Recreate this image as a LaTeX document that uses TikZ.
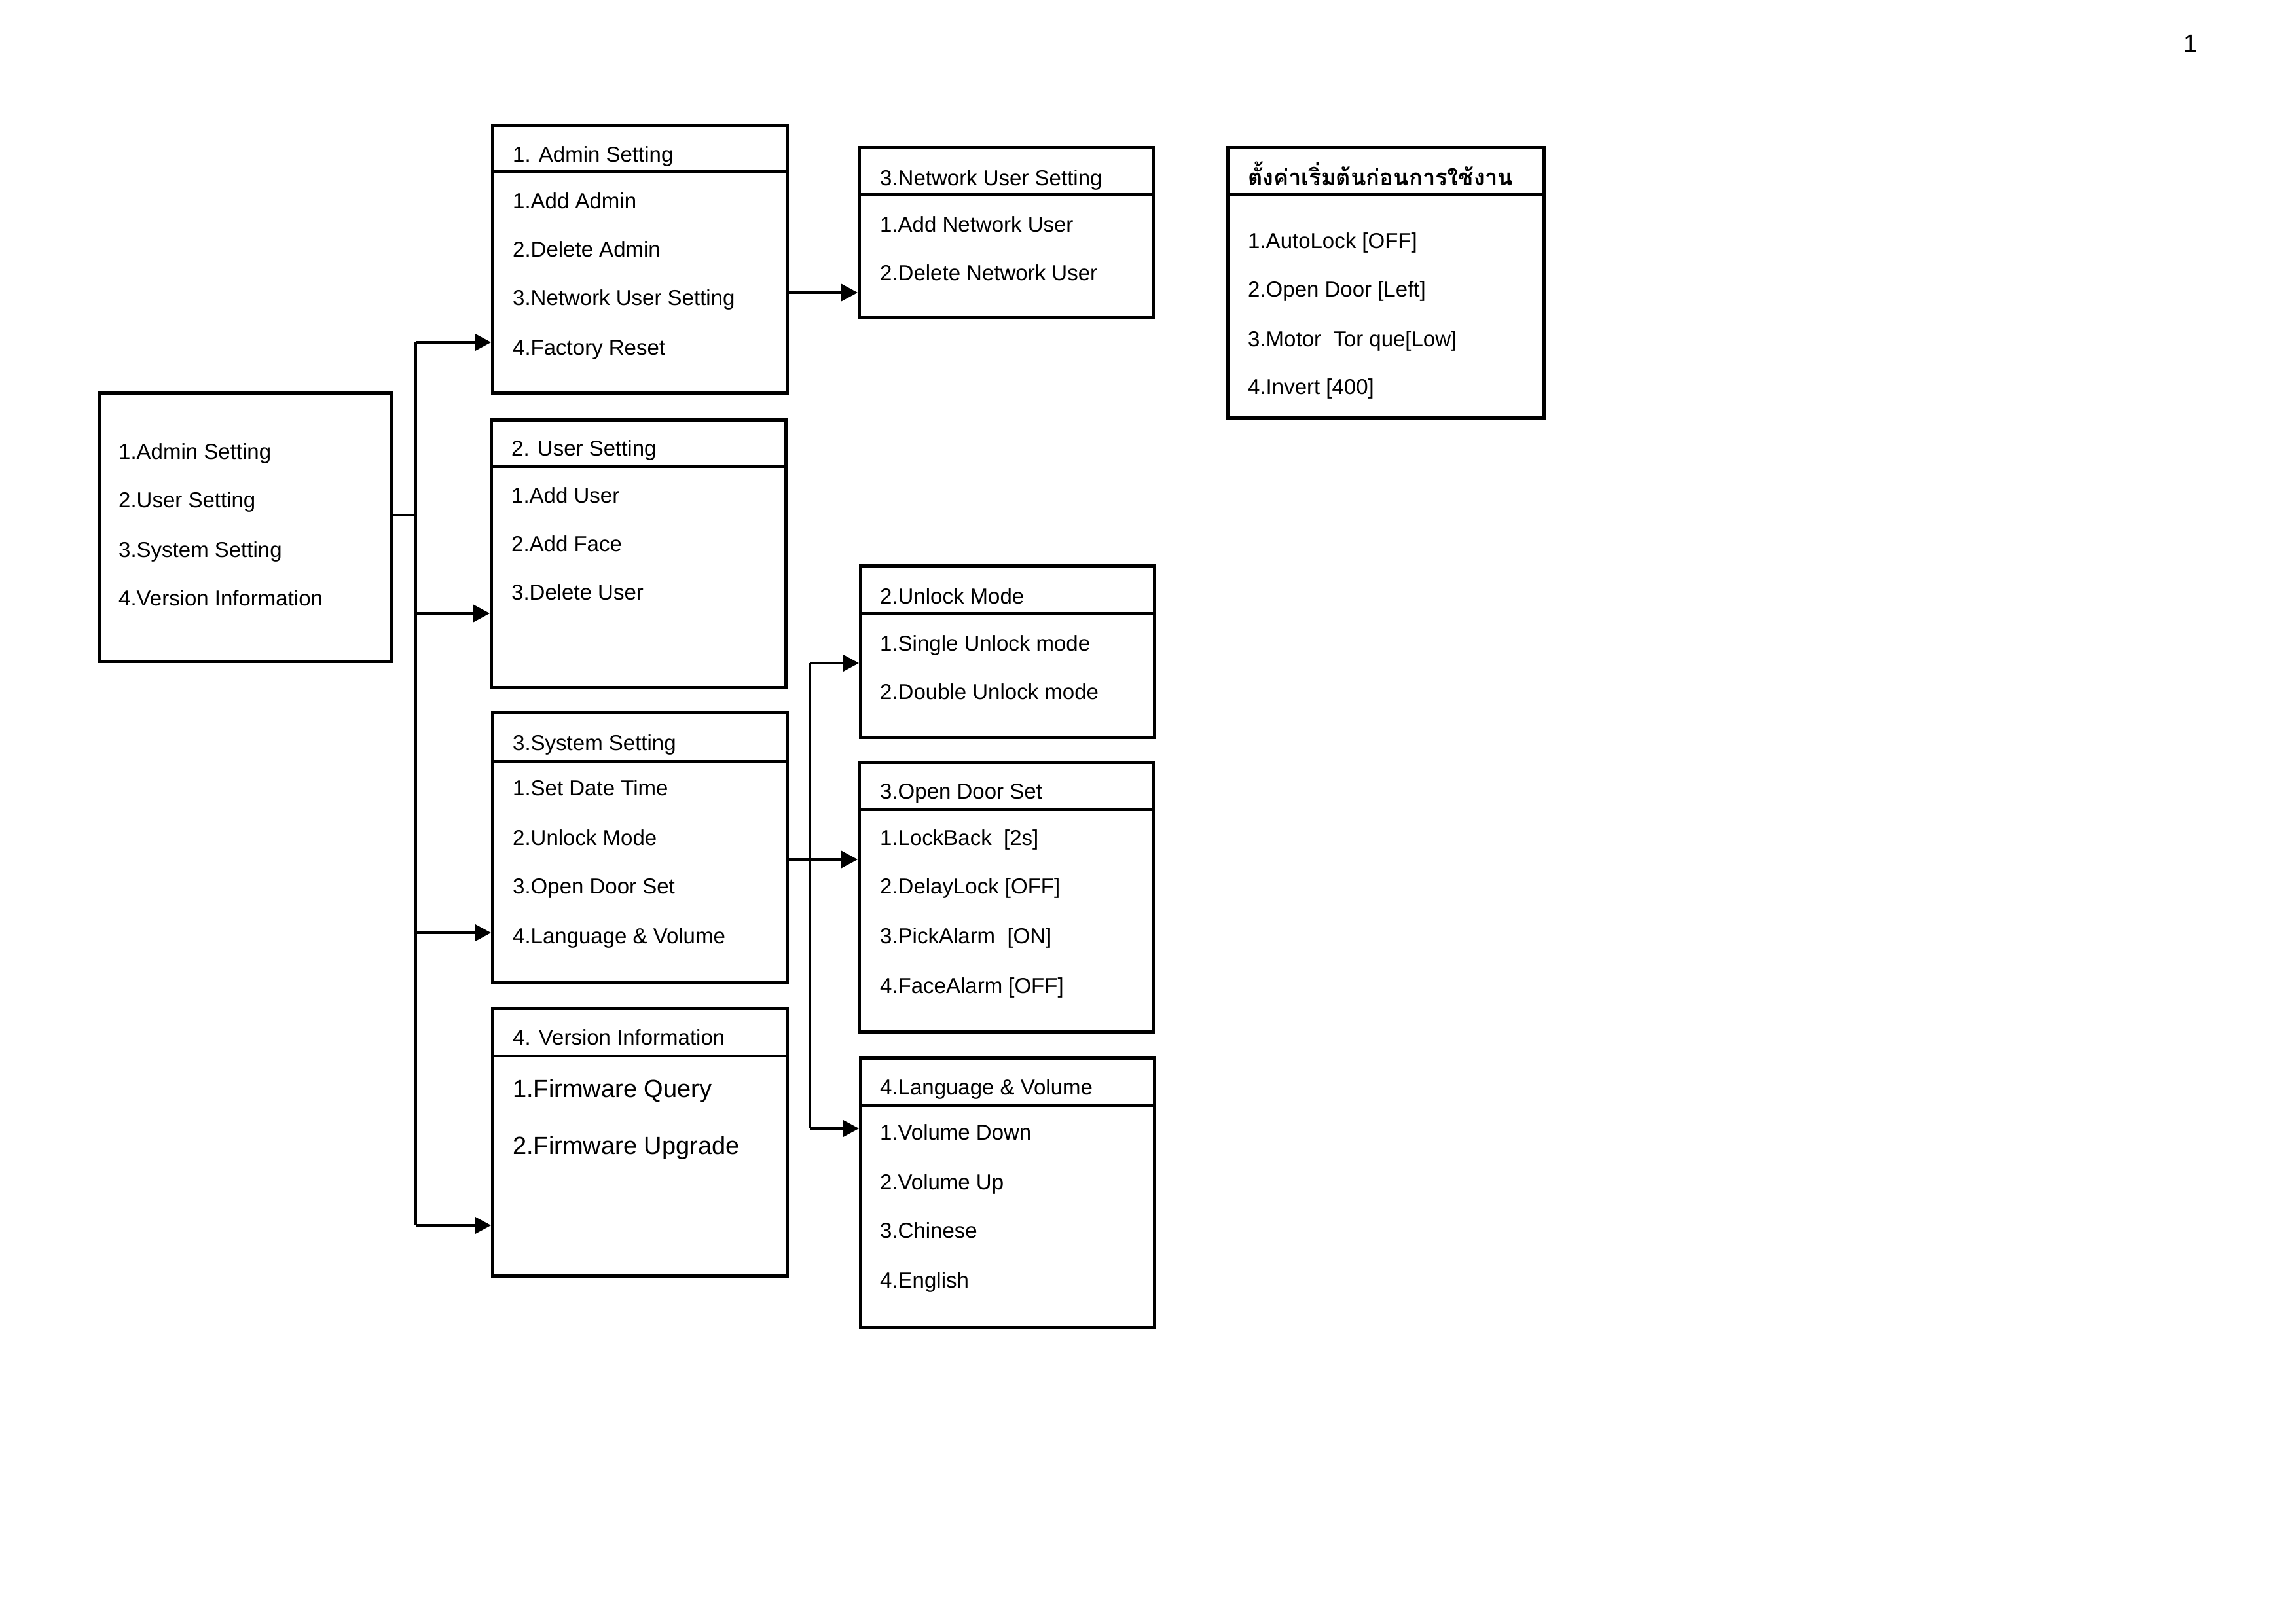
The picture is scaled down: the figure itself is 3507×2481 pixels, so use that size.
\documentclass[tikz,border=0pt]{standalone}
\usepackage{fontspec}
\setmainfont{Liberation Sans}
\newfontfamily\thaifont[Script=Thai]{Loma}
\usetikzlibrary{arrows.meta}
\begin{document}
\begin{tikzpicture}[x=1pt,y=-1pt,
  box/.style={draw, line width=4.5pt, rectangle, anchor=north west, inner sep=0pt},
  hline/.style={line width=4.5pt},
  conn/.style={line width=3.5pt},
  arr/.style={line width=3.5pt, -{Triangle[length=25pt,width=26pt]}},
  txt/.style={anchor=base west, inner sep=0pt, font=\fontsize{33}{40}\selectfont},
  bigtxt/.style={anchor=base west, inner sep=0pt, font=\fontsize{38}{46}\selectfont},
  thtxt/.style={anchor=base west, inner sep=0pt, font=\thaifont\bfseries\fontsize{34.5}{42}\selectfont}]
\useasboundingbox (0,0) rectangle (3507,2481);
% page number
\node[anchor=base, inner sep=0pt, font=\fontsize{38}{46}\selectfont] (pg) at (3346,79) {1};

% boxes
\node[box, minimum width=447pt, minimum height=410pt] (main) at (149,598) {};
\node[box, minimum width=450pt, minimum height=409pt] (admin) at (750,189) {};
\node[box, minimum width=450pt, minimum height=409pt] (user) at (748,639) {};
\node[box, minimum width=450pt, minimum height=412pt] (sys) at (750,1086) {};
\node[box, minimum width=450pt, minimum height=409pt] (ver) at (750,1538) {};
\node[box, minimum width=449pt, minimum height=259pt] (net) at (1310,223) {};
\node[box, minimum width=483pt, minimum height=413pt] (thai) at (1873,223) {};
\node[box, minimum width=449pt, minimum height=262pt] (unl) at (1312,862) {};
\node[box, minimum width=449pt, minimum height=412pt] (door) at (1310,1162) {};
\node[box, minimum width=449pt, minimum height=411pt] (lang) at (1312,1614) {};

% header lines
\draw[hline] (admin.west |- 0,262) -- (admin.east |- 0,262);
\draw[hline] (user.west |- 0,713) -- (user.east |- 0,713);
\draw[hline] (sys.west |- 0,1163) -- (sys.east |- 0,1163);
\draw[hline] (ver.west |- 0,1613) -- (ver.east |- 0,1613);
\draw[hline] (net.west |- 0,297) -- (net.east |- 0,297);
\draw[hline] (thai.west |- 0,297) -- (thai.east |- 0,297);
\draw[hline] (unl.west |- 0,937) -- (unl.east |- 0,937);
\draw[hline] (door.west |- 0,1237) -- (door.east |- 0,1237);
\draw[hline] (lang.west |- 0,1689) -- (lang.east |- 0,1689);

% main texts
\node[txt] (m1) at (181,701) {1.Admin Setting};
\node[txt] (m2) at (181,775) {2.User Setting};
\node[txt] (m3) at (181,851) {3.System Setting};
\node[txt] (m4) at (181,925) {4.Version Information};

% admin
\node[txt] (a0) at (783,247) {1. Admin Setting};
\node[txt] (a1) at (783,318) {1.Add Admin};
\node[txt] (a2) at (783,392) {2.Delete Admin};
\node[txt] (a3) at (783,466) {3.Network User Setting};
\node[txt] (a4) at (783,542) {4.Factory Reset};

% user
\node[txt] (u0) at (781,696) {2. User Setting};
\node[txt] (u1) at (781,768) {1.Add User};
\node[txt] (u2) at (781,842) {2.Add Face};
\node[txt] (u3) at (781,916) {3.Delete User};

% system
\node[txt] (s0) at (783,1146) {3.System Setting};
\node[txt] (s1) at (783,1215) {1.Set Date Time};
\node[txt] (s2) at (783,1291) {2.Unlock Mode};
\node[txt] (s3) at (783,1365) {3.Open Door Set};
\node[txt] (s4) at (783,1441) {4.Language \& Volume};

% version
\node[txt] (v0) at (783,1596) {4. Version Information};
\node[bigtxt] (v1) at (783,1676) {1.Firmware Query};
\node[bigtxt] (v2) at (783,1763) {2.Firmware Upgrade};

% network
\node[txt] (n0) at (1344,283) {3.Network User Setting};
\node[txt] (n1) at (1344,354) {1.Add Network User};
\node[txt] (n2) at (1344,428) {2.Delete Network User};

% thai
\node[thtxt] (t0) at (1906,283) {ตั้งค่าเริ่มต้นก่อนการใช้งาน};
\node[txt] (t1) at (1906,379) {1.AutoLock [OFF]};
\node[txt] (t2) at (1906,453) {2.Open Door [Left]};
\node[txt] (t3) at (1906,529) {3.Motor\ \ Tor que[Low]};
\node[txt] (t4) at (1906,602) {4.Invert [400]};

% unlock
\node[txt] (k0) at (1344,922) {2.Unlock Mode};
\node[txt] (k1) at (1344,994) {1.Single Unlock mode};
\node[txt] (k2) at (1344,1068) {2.Double Unlock mode};

% open door
\node[txt] (d0) at (1344,1220) {3.Open Door Set};
\node[txt] (d1) at (1344,1291) {1.LockBack\ \ [2s]};
\node[txt] (d2) at (1344,1365) {2.DelayLock [OFF]};
\node[txt] (d3) at (1344,1441) {3.PickAlarm\ \ [ON]};
\node[txt] (d4) at (1344,1517) {4.FaceAlarm [OFF]};

% language
\node[txt] (l0) at (1344,1672) {4.Language \& Volume};
\node[txt] (l1) at (1344,1741) {1.Volume Down};
\node[txt] (l2) at (1344,1817) {2.Volume Up};
\node[txt] (l3) at (1344,1891) {3.Chinese};
\node[txt] (l4) at (1344,1967) {4.English};

% connectors level 1
\coordinate (bus) at (635,787);
\coordinate (busT) at (635,523);
\coordinate (busB) at (635,1872);
\draw[conn] (main.east |- bus) -- (bus);
\draw[conn] (busT) -- (busB);
\draw[arr] (busT) -- (admin.west |- busT);
\draw[arr] (635,937) -- (user.west |- 0,937);
\draw[arr] (635,1425) -- (sys.west |- 0,1425);
\draw[arr] (busB) -- (ver.west |- busB);

% admin -> network
\draw[arr] (admin.east |- 0,447) -- (net.west |- 0,447);

% system -> sub
\coordinate (bus2) at (1237,1313);
\coordinate (bus2T) at (1237,1013);
\coordinate (bus2B) at (1237,1724);
\draw[arr] (sys.east |- bus2) -- (door.west |- bus2);
\draw[conn] (bus2T) -- (bus2B);
\draw[arr] (bus2T) -- (unl.west |- bus2T);
\draw[arr] (bus2B) -- (lang.west |- bus2B);
\end{tikzpicture}
\end{document}
